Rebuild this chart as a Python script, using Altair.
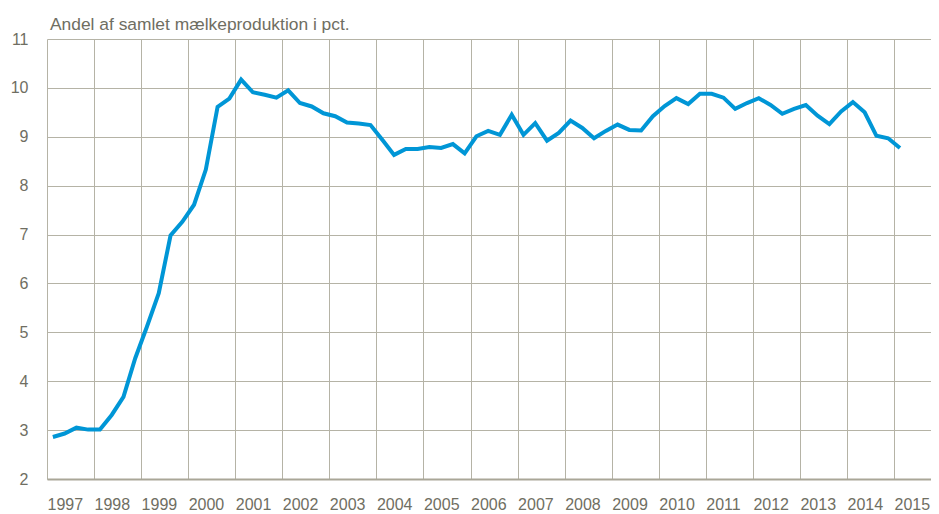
import altair as alt
import pandas as pd

title_text = "Andel af samlet mælkeproduktion i pct."
years = list(range(1997, 2016))
quarters = [1, 2, 3, 4]
values = [
    2.86, 2.93, 3.05, 3.01,   # 1997
    3.01, 3.31, 3.68, 4.47,   # 1998
    5.12, 5.80, 6.98, 7.26,   # 1999
    7.61, 8.33, 9.61, 9.78,   # 2000
    10.17, 9.91, 9.86, 9.80,  # 2001
    9.95, 9.69, 9.62, 9.48,   # 2002
    9.42, 9.29, 9.27, 9.24,   # 2003
    8.94, 8.63, 8.75, 8.75,   # 2004
    8.79, 8.77, 8.85, 8.66,   # 2005
    9.01, 9.12, 9.04, 9.45,   # 2006
    9.04, 9.28, 8.92, 9.08,   # 2007
    9.33, 9.18, 8.97, 9.12,   # 2008
    9.25, 9.14, 9.13, 9.42,   # 2009
    9.63, 9.79, 9.67, 9.88,   # 2010
    9.88, 9.80, 9.57, 9.69,   # 2011
    9.79, 9.65, 9.47, 9.57,   # 2012
    9.65, 9.43, 9.26, 9.52,   # 2013
    9.71, 9.50, 9.02, 8.97,   # 2014
    8.77,                     # 2015
]
y_ticks = list(range(2, 12))

times = []
for y in years:
    for q in quarters:
        if len(times) < len(values):
            times.append(y + (q - 0.5) / 4)

df = pd.DataFrame({"t": times, "v": values})
title_df = pd.DataFrame({"label": [title_text]})

FONT = "Liberation Sans, Arial, sans-serif"
GRID = "#b5b3a6"
TEXT = "#6f6e62"

line = (
    alt.Chart(df)
    .mark_line(color="#0096d6", strokeWidth=4)
    .encode(
        x=alt.X("t:Q",
                scale=alt.Scale(domain=[1997, 2015.785], nice=False, zero=False),
                axis=alt.Axis(values=years, format="d", title=None, labelAlign="left",
                              labelPadding=17, labelFont=FONT, labelFontSize=16,
                              labelColor=TEXT, labelFlush=False, labelOverlap=False,
                              tickSize=0, grid=True, gridColor=GRID,
                              gridWidth=1, domainColor="#a9a697", domainWidth=2)),
        y=alt.Y("v:Q",
                scale=alt.Scale(domain=[2, 11], nice=False, zero=False),
                axis=alt.Axis(values=y_ticks, format="d", title=None,
                              labelPadding=19, labelFont=FONT, labelFontSize=16,
                              labelColor=TEXT, tickSize=0, grid=True, gridColor=GRID,
                              gridWidth=1, domain=False)),
    )
)

title = (
    alt.Chart(title_df)
    .mark_text(align="left", baseline="alphabetic", font=FONT, fontSize=17.4,
               color=TEXT)
    .encode(text="label:N", x=alt.value(3), y=alt.value(-9))
)

chart = (
    alt.layer(line, title)
    .properties(width=884, height=440, autosize=alt.AutoSizeParams(type="none"),
                padding={"left": 39, "top": 31, "right": 0, "bottom": 35})
    .configure_view(stroke=None)
)

chart.save("out.html", embed_options={"renderer": "svg", "actions": False})
